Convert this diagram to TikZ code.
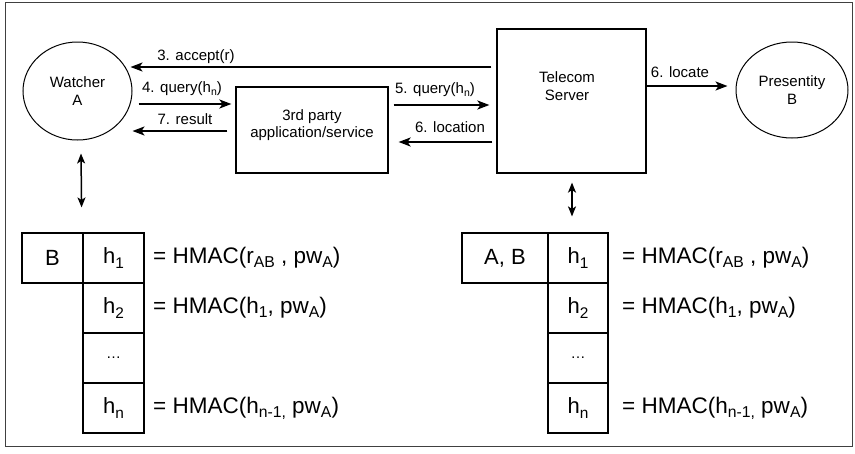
\documentclass[tikz,border=0pt]{standalone}
\usepackage{fontspec}
\setmainfont{Liberation Sans}
\usetikzlibrary{arrows.meta,shapes.geometric}
\newcommand\mysub[1]{\raisebox{-0.35ex}{\scalebox{0.7}{#1}}}
\begin{document}
\begin{tikzpicture}[x=1pt,y=-1pt,
  lbl/.style={font=\fontsize{15}{17.5}\selectfont, inner sep=0pt, align=center},
  big/.style={font=\fontsize{22.5}{25}\selectfont, inner sep=0pt, anchor=west},
  box/.style={draw, line width=1.2pt, inner sep=0pt},
  cell/.style={draw, line width=1.2pt, inner sep=0pt, minimum height=50pt, font=\fontsize{22}{24}\selectfont},
  ell/.style={draw, ellipse, line width=1pt, inner sep=0pt, align=center, font=\fontsize{15}{17.5}\selectfont},
  arr/.style={line width=1.8pt, -{Stealth[length=12pt,width=9pt,inset=3pt]}},
  darr/.style={line width=1.5pt, {Stealth[length=10pt,width=8pt,inset=2.5pt]}-{Stealth[length=10pt,width=8pt,inset=2.5pt]}}
]
\useasboundingbox (0,0) rectangle (855,453);
\draw[line width=0.8pt, black!75] (5,2) rectangle (852,446);

% main nodes
\node[ell, minimum width=109pt, minimum height=98pt] (W) at (77.5,91) {Watcher\\A};
\node[box, minimum width=152pt, minimum height=86pt] (T) at (312,130) {};
\node[lbl] (Tt) at (312,125) {3rd party\\application/service};
\node[box, minimum width=149pt, minimum height=144pt] (S) at (571.5,101) {};
\node[lbl] (St) at (567,86) {Telecom\\Server};
\node[ell, minimum width=112pt, minimum height=96pt] (P) at (792,90) {Presentity\\B};

% left table
\node[cell, minimum width=61pt] (lB) at (52.5,258) {B};
\node[cell, minimum width=61pt] (lh1) at (113.5,258) {h\mysub{1}};
\node[cell, minimum width=61pt] (lh2) at (113.5,308) {h\mysub{2}};
\node[cell, minimum width=61pt, font=\fontsize{15}{17}\selectfont] (ld) at (113.5,358) {\dots};
\node[cell, minimum width=61pt] (lhn) at (113.5,408) {h\mysub{n}};
\node[big] (lf1) at (153,258) {= HMAC(r\mysub{AB} , pw\mysub{A})};
\node[big] (lf2) at (153,308) {= HMAC(h\mysub{1}, pw\mysub{A})};
\node[big] (lfn) at (153,408) {= HMAC(h\mysub{n-1,} pw\mysub{A})};

% right table
\node[cell, minimum width=86pt] (rAB) at (505,258) {A, B};
\node[cell, minimum width=60pt] (rh1) at (578,258) {h\mysub{1}};
\node[cell, minimum width=60pt] (rh2) at (578,308) {h\mysub{2}};
\node[cell, minimum width=60pt, font=\fontsize{15}{17}\selectfont] (rd) at (578,358) {\dots};
\node[cell, minimum width=60pt] (rhn) at (578,408) {h\mysub{n}};
\node[big] (rf1) at (622,258) {= HMAC(r\mysub{AB} , pw\mysub{A})};
\node[big] (rf2) at (622,308) {= HMAC(h\mysub{1}, pw\mysub{A})};
\node[big] (rfn) at (622,408) {= HMAC(h\mysub{n-1,} pw\mysub{A})};

% arrows
\draw[arr] ([xshift=-5pt,yshift=34pt]S.west) -- ([xshift=-2pt,yshift=24pt]W.east);
\node[lbl] (l3) at (196,57) {3. accept(r)};
\draw[arr] ([xshift=6pt,yshift=-13pt]W.east) -- ([xshift=-4pt,yshift=26pt]T.west);
\node[lbl] (l4) at (182,89) {4. query(h\mysub{n})};
\draw[arr] ([xshift=-8pt,yshift=-1pt]T.west) -- ([yshift=-40pt]W.east);
\node[lbl] (l7) at (185,119) {7. result};
\draw[arr] ([xshift=5pt,yshift=25pt]T.east) -- ([xshift=-7pt,yshift=-4pt]S.west);
\node[lbl] (l5) at (435,90) {5. query(h\mysub{n})};
\draw[arr] ([xshift=-4pt,yshift=-41pt]S.west) -- ([xshift=10pt,yshift=-12pt]T.east);
\node[lbl] (l6) at (450,127) {6. location};
\draw[arr] ([yshift=15pt]S.east) -- ([xshift=-8pt,yshift=4pt]P.west);
\node[lbl] (l6b) at (680,72) {6. locate};

\draw[darr] ([xshift=3.5pt,yshift=-13pt]W.south) -- ([xshift=-2pt,yshift=25pt]lB.north east);
\draw[darr] ([xshift=0.5pt,yshift=-9pt]S.south) -- ([xshift=-6pt,yshift=16pt]rh1.north);
\end{tikzpicture}
\end{document}
